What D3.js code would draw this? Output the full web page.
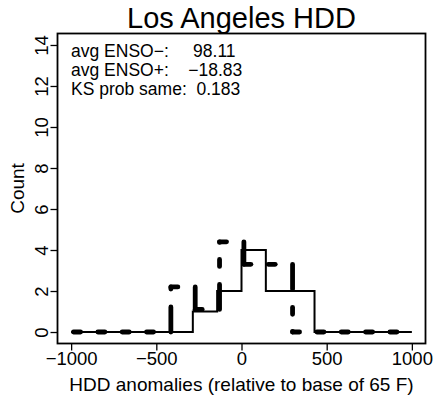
<!DOCTYPE html>
<html>
<head>
<meta charset="utf-8">
<script src="https://cdn.jsdelivr.net/npm/d3@7"></script>
<style>
  html, body { margin: 0; padding: 0; background: #fff; }
  svg { display: block; }
  text { font-family: "Liberation Sans", Arial, Helvetica, sans-serif; fill: #000; }
</style>
</head>
<body>
<svg id="chart" width="435" height="402"></svg>
<script>
// Histogram bin centres (HDD anomaly, relative to base of 65 F)
const binCenters = [-1000, -857.1, -714.3, -571.4, -428.6, -285.7, -142.9, 0,
                    142.9, 285.7, 428.6, 571.4, 714.3, 857.1, 1000];
// Counts per bin, solid step line
const ensoMinus = [0, 0, 0, 0, 0, 1, 2, 4, 2, 2, 0, 0, 0, 0, 0];
// Heights per bin, thick dashed step line
const ensoPlus  = [0, 0, 0, 0, 2.2, 1.1, 4.4, 3.3, 3.3, 0, 0, 0, 0, 0, 0];

const xTicks = [-1000, -500, 0, 500, 1000];
const yTicks = [0, 2, 4, 6, 8, 10, 12, 14];

const titleText = "Los Angeles HDD";
const xTitle = "HDD anomalies (relative to base of 65 F)";
const yTitle = "Count";
const statLines = [
  "avg ENSO\u2212:     98.11",
  "avg ENSO+:    \u221218.83",
  "KS prob same:  0.183"
];

const svg = d3.select("#chart");
const box = { left: 57.5, right: 425.5, top: 33.5, bottom: 343.5 };

// axis ranges padded by 4% like a base-graphics plot
const x = d3.scaleLinear().domain([-1080, 1080]).range([box.left, box.right]);
const y = d3.scaleLinear().domain([-0.56, 14.56]).range([box.bottom, box.top]);

const fmt = d => (d < 0 ? "\u2212" + Math.abs(d) : String(d));

// x axis
const gx = svg.append("g")
  .attr("transform", `translate(0,${box.bottom})`)
  .call(d3.axisBottom(x).tickValues(xTicks).tickSize(7).tickPadding(4).tickFormat(fmt));
gx.select(".domain").remove();
gx.selectAll(".tick line").attr("stroke", "#000").attr("stroke-width", 1.3);
gx.selectAll(".tick text")
  .attr("y", 21.5).attr("dy", 0)
  .style("font-size", "18.5px");

// y axis with labels parallel to the axis
const gy = svg.append("g")
  .attr("transform", `translate(${box.left},0)`)
  .call(d3.axisLeft(y).tickValues(yTicks).tickSize(7).tickFormat(fmt));
gy.select(".domain").remove();
gy.selectAll(".tick line").attr("stroke", "#000").attr("stroke-width", 1.3);
gy.selectAll(".tick text")
  .attr("x", 0).attr("dy", 0)
  .attr("text-anchor", "middle")
  .attr("transform", "translate(-9.5,0) rotate(-90)")
  .style("font-size", "18.5px");

// plot frame
svg.append("rect")
  .attr("x", box.left).attr("y", box.top)
  .attr("width", box.right - box.left).attr("height", box.bottom - box.top)
  .attr("fill", "none").attr("stroke", "#000").attr("stroke-width", 1.8);

// titles
svg.append("text")
  .attr("x", (box.left + box.right) / 2).attr("y", 28)
  .attr("text-anchor", "middle").style("font-size", "29px")
  .text(titleText);
svg.append("text")
  .attr("x", (box.left + box.right) / 2).attr("y", 391)
  .attr("text-anchor", "middle").style("font-size", "19px")
  .text(xTitle);
svg.append("text")
  .attr("transform", `translate(24,${(box.top + box.bottom) / 2}) rotate(-90)`)
  .attr("text-anchor", "middle").style("font-size", "19px")
  .text(yTitle);

// summary statistics
svg.append("g").selectAll("text")
  .data(statLines)
  .join("text")
  .attr("x", 71)
  .attr("y", (d, i) => 57 + i * 19)
  .attr("xml:space", "preserve")
  .style("white-space", "pre")
  .style("font-size", "17.5px")
  .text(d => d);

// solid step line
const solid = binCenters.map((c, i) => [c, ensoMinus[i]]);
svg.append("path")
  .datum(solid)
  .attr("fill", "none").attr("stroke", "#000").attr("stroke-width", 2)
  .attr("d", d3.line().x(d => x(d[0])).y(d => y(d[1])).curve(d3.curveStepAfter));

// dashed step line, nudged right so it stays visible beside the solid one;
// each step segment restarts its dash pattern
const dashShift = 14;
const dashed = binCenters.map((c, i) => [c + dashShift, ensoPlus[i]]);
const segs = [];
for (let i = 0; i < dashed.length - 1; i++) {
  const [x0, v0] = dashed[i], [x1, v1] = dashed[i + 1];
  segs.push({ dir: "h", x0: x0, y0: v0, x1: x1, y1: v0 });
  if (v1 !== v0) segs.push({ dir: "v", x0: x1, y0: v0, x1: x1, y1: v1 });
}
svg.append("g").selectAll("line")
  .data(segs)
  .join("line")
  .attr("x1", d => x(d.x0)).attr("y1", d => y(d.y0))
  .attr("x2", d => x(d.x1)).attr("y2", d => y(d.y1))
  .attr("stroke", "#000")
  .attr("stroke-width", 4.8)
  .attr("stroke-linecap", "round")
  .attr("stroke-dasharray", d => d.dir === "h" ? "7 17.4" : "25 18 7 17");
</script>
</body>
</html>
